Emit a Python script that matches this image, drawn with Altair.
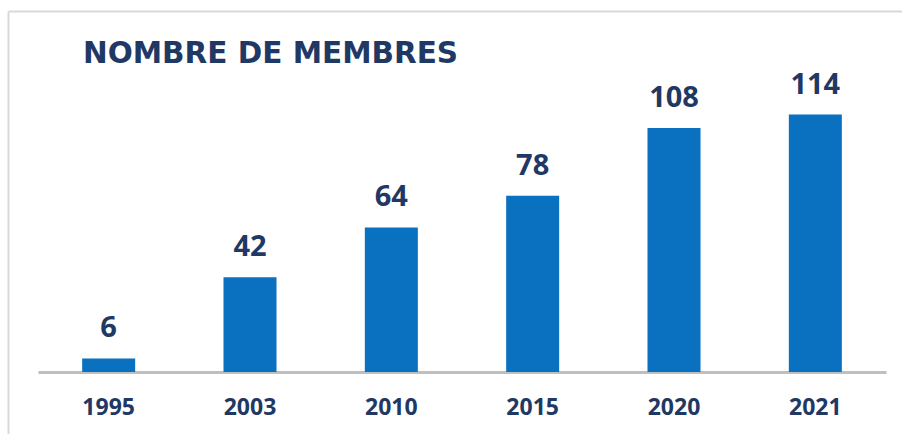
import altair as alt
import pandas as pd

years = ["1995", "2003", "2010", "2015", "2020", "2021"]
members = [6, 42, 64, 78, 108, 114]
title_text = ["NOMBRE DE MEMBRES"]

df = pd.DataFrame({"year": years, "members": members})
df_title = pd.DataFrame({"title": title_text})

NAVY = "#1F3864"
BLUE = "#0A70C0"

x_enc = alt.X(
    "year:N",
    sort=years,
    scale=alt.Scale(paddingInner=0.625, paddingOuter=0.3125),
    axis=alt.Axis(
        title=None,
        labelAngle=0,
        ticks=False,
        domainColor="#BFBFBF",
        domainWidth=3,
        labelFont="Open Sans",
        labelFontWeight="bold",
        labelFontSize=23,
        labelColor=NAVY,
        labelBaseline="alphabetic",
        labelPadding=42,
    ),
)
y_enc = alt.Y("members:Q", scale=alt.Scale(domain=[0, 120], nice=False), axis=None)

bars = alt.Chart(df).mark_bar(color=BLUE).encode(x=x_enc, y=y_enc)

labels = alt.Chart(df).mark_text(
    font="Open Sans",
    fontWeight="bold",
    fontSize=29,
    color=NAVY,
    baseline="alphabetic",
    dy=-21,
).encode(x=x_enc, y=y_enc, text="members:Q")

title = alt.Chart(df_title).mark_text(
    font="DejaVu Sans",
    fontWeight="bold",
    fontSize=29.5,
    color=NAVY,
    align="left",
    baseline="alphabetic",
    clip=False,
).encode(x=alt.value(45), y=alt.value(-38), text="title:N")

border = alt.Chart(df_title).mark_rule(color="#D9D9D9", strokeWidth=2, clip=False).encode(
    x=alt.value(-29.5), x2=alt.value(900), y=alt.value(-89.5)
)
border_left = alt.Chart(df_title).mark_rule(color="#D9D9D9", strokeWidth=2, clip=False).encode(
    x=alt.value(-29.5), y=alt.value(-89.5), y2=alt.value(400)
)

chart = (
    alt.layer(border, border_left, title, bars, labels)
    .properties(
        width=848,
        height=271,
        autosize=alt.AutoSizeParams(type="none"),
        padding={"left": 38, "top": 101, "right": 16, "bottom": 62},
    )
    .configure_view(stroke=None)
)

chart.save("out.html", embed_options={"renderer": "svg", "actions": False})
